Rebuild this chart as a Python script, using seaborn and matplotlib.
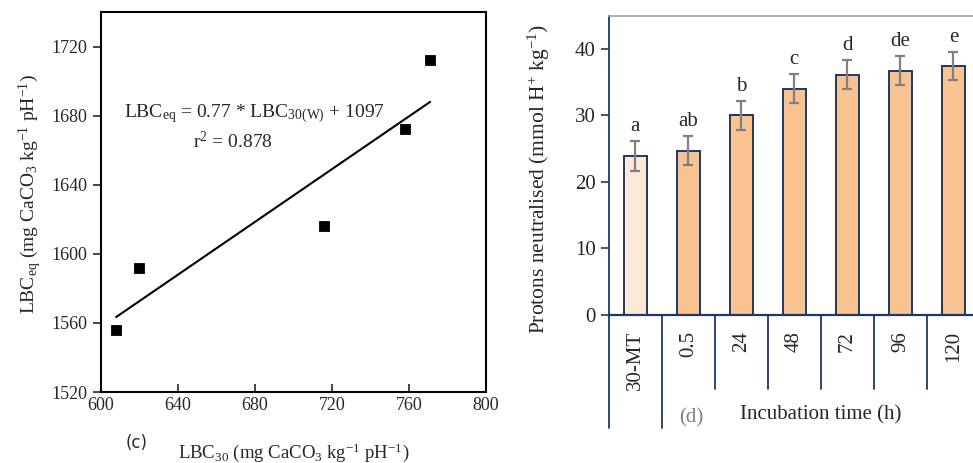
import numpy as np
import matplotlib
matplotlib.use('Agg')
import matplotlib.pyplot as plt
import matplotlib.transforms as mtransforms
import seaborn as sns

sns.set_style("ticks")
plt.rcParams['font.family'] = ['Liberation Serif', 'DejaVu Serif']
plt.rcParams['mathtext.fontset'] = 'custom'
plt.rcParams['mathtext.rm'] = 'Liberation Serif'
plt.rcParams['mathtext.default'] = 'regular'

# panel (c): LBC30 vs LBCeq
lbc30 = [608, 620, 716, 758, 771]
lbceq = [1556, 1592, 1616, 1672, 1712]

# panel (d): protons neutralised vs incubation time
times = ['30-MT', '0.5', '24', '48', '72', '96', '120']
protons = [23.9, 24.7, 30.0, 34.0, 36.1, 36.7, 37.4]
err = [2.2, 2.2, 2.2, 2.2, 2.2, 2.2, 2.1]
letters = ['a', 'ab', 'b', 'c', 'd', 'de', 'e']

navy = '#1F3864'
bar_cols = ['#FDE9DA'] + ['#F8C291'] * 6

fig = plt.figure(figsize=(9.73, 4.63), dpi=100)

#----- (c) scatter + regression
ax1 = fig.add_axes([0.1035, 0.1533, 0.396, 0.8207])
sns.regplot(x=lbc30, y=lbceq, scatter=False, ci=None, truncate=True,
			color='black', line_kws={'lw': 1.5}, ax=ax1)
sns.scatterplot(x=lbc30, y=lbceq, marker='s', color='black', s=55,
				edgecolor='black', ax=ax1)
ax1.set_xlim(600, 800)
ax1.set_ylim(1520, 1740)
ax1.set_xticks(np.arange(600, 801, 40))
ax1.set_yticks(np.arange(1520, 1721, 40))
for sp in ax1.spines.values():
	sp.set_visible(True)
	sp.set_linewidth(1.5)
	sp.set_color('black')
ax1.tick_params(axis='x', direction='in', length=6, width=1.2, labelsize=13)
ax1.tick_params(axis='y', direction='out', length=6, width=1.2, labelsize=13)
ax1.set_ylabel(r'LBC$_{eq}$ (mg CaCO$_3$ kg$^{-1}$ pH$^{-1}$)', fontsize=14)
ax1.yaxis.set_label_coords(-0.147, 0.52)
ax1.set_xlabel(r'LBC$_{30}$ (mg CaCO$_3$ kg$^{-1}$ pH$^{-1}$)', fontsize=13.5, labelpad=20)
ax1.text(679.6, 1681, r'LBC$_{eq}$ = 0.77 * LBC$_{30(W)}$ + 1097', ha='center', va='center', fontsize=14)
ax1.text(668.4, 1665, r'r$^{2}$ = 0.878', ha='center', va='center', fontsize=14)
fig.text(137 / 973, 1 - 443 / 463, '(c)', ha='center', va='center', fontsize=12,
		 family='DejaVu Sans')

#----- (d) bars
ax2 = fig.add_axes([0.6256, 0.3203, 0.3816, 0.6458])
sns.barplot(x=times, y=protons, hue=times, palette=dict(zip(times, bar_cols)),
			legend=False, width=0.43, edgecolor=navy, linewidth=1.4, saturation=1,
			errorbar=None, ax=ax2)
ax2.errorbar(np.arange(len(times)), protons, yerr=err, fmt='none', ecolor='#808080',
			 elinewidth=1.6, capsize=3.5, capthick=1.6, zorder=5)
for i, (v, e, l) in enumerate(zip(protons, err, letters)):
	ax2.text(i, v + e + 1.5, l, ha='center', va='baseline', fontsize=15)

ax2.set_xlim(-0.5, len(times) - 0.5)
ax2.set_ylim(0, 45)
ax2.set_yticks(np.arange(0, 41, 10))
ax2.spines['right'].set_visible(False)
ax2.spines['top'].set_color('#A0A0A0')
ax2.spines['top'].set_linewidth(1.2)
ax2.spines['left'].set_color(navy)
ax2.spines['bottom'].set_color(navy)
ax2.spines['left'].set_linewidth(1.3)
ax2.spines['bottom'].set_linewidth(1.6)
ax2.tick_params(axis='y', direction='out', length=6, width=1.2, color=navy, labelsize=15)
ax2.tick_params(axis='x', length=0, pad=12, labelsize=15, labelrotation=90)
ax2.set_ylabel(r'Protons neutralised (mmol H$^{+}$ kg$^{-1}$)', fontsize=15.5)
ax2.yaxis.set_label_coords(-0.152, 0.455)
ax2.set_xlabel('')

# multi-level category separators below the axis
trans = mtransforms.blended_transform_factory(ax2.transData, ax2.transAxes)
for b in np.arange(-0.5, len(times) - 1):
	low = -0.378 if b < 1 else -0.25
	ax2.plot([b, b], [0, low], color=navy, lw=1.3, transform=trans, clip_on=False)
ax2.text(3.5, -0.335, 'Incubation time (h)', transform=trans, ha='center', va='center', fontsize=15)
ax2.text(1.06, -0.345, '(d)', transform=trans, ha='center', va='center', fontsize=15, color='#808080')

plt.savefig('out.png', dpi=100)
